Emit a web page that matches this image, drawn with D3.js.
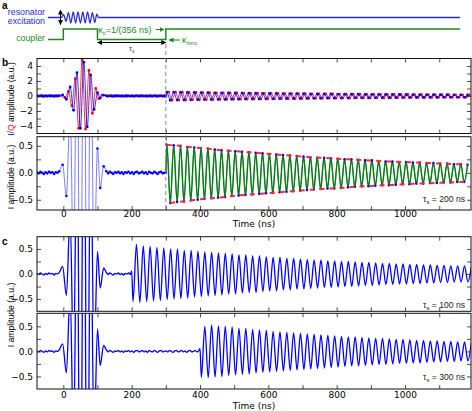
<!DOCTYPE html>
<html>
<head>
<meta charset="utf-8">
<script src="https://cdn.jsdelivr.net/npm/d3@7"></script>
<style>
  body { margin: 0; background: #fff; }
</style>
</head>
<body>
<div id="chart"></div>
<script>
// ---- data ----
const xTicks = [0, 100, 200, 300, 400, 500, 600, 700, 800, 900, 1000, 1100]
const xLabels = [0, 200, 400, 600, 800, 1000]

// panel a: coupler switching times (ns) and on/off state
const couplerT = [-45, 0, 100, 300, 1161]
const couplerOn = [0, 1, 0, 1]
// panel a: excitation wiggle (t, relative amplitude)
const excitation = [[-6, 0], [1, 0.5], [8, -0.7], [15, 0.9], [22, -1], [29, 1], [36, -1], [43, 1], [50, -1],
  [57, 1], [64, -1], [71, 1], [78, -1], [85, 0.9], [92, -0.9], [98, 0.6], [103, 0]]

// baseline noise before and after the pulse (t, I)
const noiseBefore = [[-77, 0.01], [-72, -0.01], [-67, 0.02], [-62, 0.00], [-57, -0.02], [-52, 0.01], [-47, -0.01],
  [-42, 0.02], [-37, 0.00], [-32, 0.01], [-27, -0.02], [-22, 0.01], [-17, 0.00], [-12, 0.03]]
const noiseAfter = [[126, 0.03], [131, -0.01], [136, 0.02], [141, 0.00], [146, -0.02], [151, 0.01], [156, 0.00],
  [161, 0.02], [166, -0.01], [171, 0.01], [176, -0.02], [181, 0.01], [186, 0.00], [191, 0.02], [196, -0.01],
  [201, 0.01], [206, -0.02], [211, 0.01], [216, 0.02], [221, -0.01], [226, 0.00], [231, 0.02], [236, -0.01],
  [241, 0.01], [246, -0.02], [251, 0.02], [256, 0.00], [261, -0.01], [266, 0.02], [271, 0.00], [276, -0.02],
  [281, 0.01], [286, 0.02], [291, -0.01], [296, 0.00], [301, 0.01], [306, -0.01], [311, 0.02], [316, 0.00],
  [321, -0.02], [326, 0.01], [331, 0.02], [336, -0.01], [341, 0.00], [346, 0.02], [351, -0.01], [356, 0.01],
  [361, -0.02], [366, 0.01], [371, 0.02], [376, -0.01], [381, 0.00], [386, 0.02], [391, -0.01], [396, 0.01]]

// excitation pulse, extrema of I and Q (t, a.u.)
const pulseI = [[-2, 0.15], [9, -0.43], [20, 1.2], [30, -1.9], [40, 3.1], [50, -4.3], [60, 4.5], [70, -4.1],
  [80, 2.8], [90, -1.8], [100, 0.45], [108, -0.28], [118, 0.12]]
const pulseQ = [[5, -0.2], [15, 0.6], [25, -1.3], [35, 2.3], [45, -4.3], [55, 4.8], [65, -4.4], [75, 3.4],
  [85, -2.3], [95, 1.0], [104, -0.35], [113, 0.12]]

// released field: period and per-cycle extrema
const period = 20
const bRelease = 300, bFirst = 303
const bPeaks = [0.52, 0.51, 0.50, 0.48, 0.47, 0.46, 0.45, 0.43, 0.42, 0.41, 0.40, 0.39, 0.38, 0.37, 0.36,
  0.35, 0.34, 0.33, 0.32, 0.31, 0.30, 0.29, 0.28, 0.28, 0.27, 0.26, 0.25, 0.25, 0.24, 0.23, 0.23, 0.22,
  0.21, 0.21, 0.20, 0.20, 0.19, 0.19, 0.18, 0.18, 0.17, 0.17, 0.16, 0.16, 0.15]
const bTroughs = [-0.56, -0.54, -0.53, -0.51, -0.50, -0.48, -0.47, -0.46, -0.45, -0.43, -0.42, -0.41, -0.40,
  -0.39, -0.38, -0.37, -0.36, -0.35, -0.34, -0.33, -0.32, -0.31, -0.30, -0.29, -0.29, -0.28, -0.27, -0.26,
  -0.25, -0.25, -0.24, -0.23, -0.23, -0.22, -0.21, -0.21, -0.20, -0.20, -0.19, -0.19, -0.18, -0.18, -0.17, -0.17]

const c100Release = 200, c100First = 204
const c100Troughs = [-0.55, -0.57, -0.55, -0.54, -0.53, -0.51, -0.50, -0.49, -0.48, -0.46, -0.45, -0.44, -0.43,
  -0.42, -0.40, -0.40, -0.38, -0.37, -0.37, -0.35, -0.34, -0.34, -0.32, -0.32, -0.30, -0.30, -0.29, -0.28,
  -0.27, -0.27, -0.26, -0.25, -0.25, -0.24, -0.23, -0.23, -0.22, -0.21, -0.21, -0.20, -0.20, -0.19, -0.19,
  -0.18, -0.18, -0.17, -0.17, -0.16, -0.16, -0.16]
const c100Peaks = [0.59, 0.56, 0.55, 0.53, 0.52, 0.50, 0.50, 0.47, 0.47, 0.45, 0.44, 0.43, 0.42, 0.41, 0.40,
  0.38, 0.38, 0.36, 0.36, 0.34, 0.33, 0.33, 0.31, 0.31, 0.30, 0.29, 0.28, 0.28, 0.26, 0.26, 0.25, 0.25,
  0.24, 0.23, 0.23, 0.22, 0.21, 0.21, 0.20, 0.20, 0.19, 0.19, 0.18, 0.18, 0.17, 0.17, 0.16, 0.16, 0.16, 0.15]

const c300Release = 400, c300First = 404
const c300Troughs = [-0.52, -0.52, -0.51, -0.50, -0.48, -0.47, -0.46, -0.45, -0.43, -0.42, -0.41, -0.40, -0.39,
  -0.38, -0.37, -0.36, -0.35, -0.34, -0.33, -0.32, -0.31, -0.30, -0.29, -0.29, -0.28, -0.27, -0.26, -0.26,
  -0.25, -0.24, -0.24, -0.23, -0.23, -0.22, -0.21, -0.21, -0.20, -0.20, -0.19, -0.19]
const c300Peaks = [0.50, 0.53, 0.51, 0.50, 0.49, 0.46, 0.46, 0.44, 0.43, 0.42, 0.40, 0.39, 0.38, 0.37, 0.36,
  0.35, 0.34, 0.33, 0.32, 0.31, 0.30, 0.29, 0.29, 0.28, 0.27, 0.26, 0.26, 0.25, 0.24, 0.24, 0.23, 0.22,
  0.22, 0.21, 0.21, 0.20, 0.20, 0.19, 0.19, 0.18]

// ---- layout ----
const width = 472, height = 411
const xLeft = 37, xRight = 471
const blue = "#0000ff", red = "#ff0000", green = "#008000"
const aBlue = "#2a2ad2", aGreen = "#1b8c1b"
const sans = "Liberation Sans, Arial, sans-serif"
const dejavu = "DejaVu Sans, sans-serif"

const svg = d3.select("#chart").append("svg")
  .attr("width", width).attr("height", height)

const defs = svg.append("defs")
function marker(id, color) {
  defs.append("marker").attr("id", id)
    .attr("viewBox", "0 0 10 10").attr("refX", 9).attr("refY", 5)
    .attr("markerWidth", 5).attr("markerHeight", 5)
    .attr("orient", "auto-start-reverse")
    .append("path").attr("d", "M0,0L10,5L0,10z").attr("fill", color)
}
marker("arK", "#000")
marker("arG", aGreen)

const x = d3.scaleLinear().domain([-77, 1193]).range([xLeft, xRight])

// turn per-cycle extrema into alternating (t, value) points
function release(t0, first, second) {
  const pts = []
  first.forEach((v, k) => {
    pts.push([t0 + k * period, v])
    if (k < second.length) pts.push([t0 + period / 2 + k * period, second[k]])
  })
  return pts
}
const before = (t) => noiseAfter.filter(d => d[0] < t)

const bDecayI = [[bRelease, 0]].concat(release(bFirst, bPeaks, bTroughs))
const bDecayQ = [[bRelease, 0]].concat(release(bFirst + period / 4, bPeaks, bTroughs))
const bI = noiseBefore.concat(pulseI, before(bRelease), bDecayI)
const bQ = noiseBefore.concat(pulseQ, before(bRelease), bDecayQ)
const c100 = noiseBefore.concat(pulseI, before(c100Release), [[c100Release, 0.06]],
  release(c100First, c100Troughs, c100Peaks))
const c300 = noiseBefore.concat(pulseI, before(c300Release), [[c300Release, 0.06]],
  release(c300First, c300Troughs, c300Peaks))

// ---- panel a ----
const yWave = d3.scaleLinear().domain([-1, 1]).range([23, 12])
const yCoupler = d3.scaleLinear().domain([0, 1]).range([39.5, 29])

svg.append("text").attr("x", 2).attr("y", 9).text("a")
  .style("font-family", sans).style("font-weight", "bold").style("font-size", "10px")

svg.append("text").attr("x", 45).attr("y", 15).attr("text-anchor", "end").attr("fill", aBlue)
  .style("font-family", sans).style("font-size", "8.8px").text("resonator")
svg.append("text").attr("x", 45).attr("y", 24).attr("text-anchor", "end").attr("fill", aBlue)
  .style("font-family", sans).style("font-size", "8.8px").text("excitation")
svg.append("text").attr("x", 45).attr("y", 41).attr("text-anchor", "end").attr("fill", aGreen)
  .style("font-family", sans).style("font-size", "8.8px").text("coupler")

// excitation line with wiggle
const excLine = [[-45, 0]].concat(excitation, [[1161, 0]])
svg.append("path").datum(excLine)
  .attr("fill", "none").attr("stroke", aBlue).attr("stroke-width", 1.3)
  .attr("d", d3.line().x(d => x(d[0])).y(d => yWave(d[1])).curve(d3.curveMonotoneX))

// amplitude arrow
svg.append("line").attr("x1", 60.5).attr("x2", 60.5).attr("y1", 17.5).attr("y2", 10)
  .attr("stroke", "#000").attr("stroke-width", 1).attr("marker-end", "url(#arK)")
svg.append("line").attr("x1", 60.5).attr("x2", 60.5).attr("y1", 17.5).attr("y2", 24.5)
  .attr("stroke", "#000").attr("stroke-width", 1).attr("marker-end", "url(#arK)")

// coupler steps
svg.append("path").datum(couplerT)
  .attr("fill", "none").attr("stroke", aGreen).attr("stroke-width", 1.5)
  .attr("d", d3.line().x(d => x(d)).y((d, i) => yCoupler(couplerOn[Math.min(i, couplerOn.length - 1)]))
    .curve(d3.curveStepAfter))

// kappa annotations
const kc = svg.append("text").attr("x", x(102)).attr("y", 33).attr("fill", aGreen)
  .style("font-family", sans).style("font-size", "9px")
kc.append("tspan").text("κ")
kc.append("tspan").attr("dy", 2).style("font-size", "6px").text("c")
kc.append("tspan").attr("dy", -2).text("=1/(356 ns)")
svg.append("line").attr("x1", 156).attr("x2", 164).attr("y1", 29.5).attr("y2", 29.5)
  .attr("stroke", aGreen).attr("stroke-width", 1).attr("marker-end", "url(#arG)")

svg.append("line").attr("x1", 180).attr("x2", 169).attr("y1", 40).attr("y2", 40)
  .attr("stroke", aGreen).attr("stroke-width", 1).attr("marker-end", "url(#arG)")
const kz = svg.append("text").attr("x", 182).attr("y", 43).attr("fill", aGreen)
  .style("font-family", sans).style("font-size", "9px")
kz.append("tspan").text("κ")
kz.append("tspan").attr("dy", 2).style("font-size", "5.5px").text("zero")

// storage time arrow
svg.append("line").attr("x1", (x(100) + x(300)) / 2).attr("x2", x(100)).attr("y1", 42.5).attr("y2", 42.5)
  .attr("stroke", "#000").attr("stroke-width", 1).attr("marker-end", "url(#arK)")
svg.append("line").attr("x1", (x(100) + x(300)) / 2).attr("x2", x(300)).attr("y1", 42.5).attr("y2", 42.5)
  .attr("stroke", "#000").attr("stroke-width", 1).attr("marker-end", "url(#arK)")
const ts = svg.append("text").attr("x", (x(100) + x(300)) / 2).attr("y", 51).attr("text-anchor", "middle")
  .attr("fill", "#444").style("font-family", sans).style("font-size", "7.5px")
ts.append("tspan").text("τ")
ts.append("tspan").attr("dy", 1.5).style("font-size", "5px").text("s")

// ---- panels b, c ----
const panels = [
  { id: "bUp", top: 58.5, bottom: 133.5, domain: [-5, 5], ticks: d3.range(-4, 5), labels: [-4, -2, 0, 2, 4],
    fmt: d3.format("d"), xlab: false },
  { id: "bLo", top: 136.7, bottom: 210, domain: [-0.69, 0.67], ticks: [-0.5, -0.25, 0, 0.25, 0.5],
    labels: [-0.5, 0, 0.5], fmt: d3.format(".1f"), xlab: true, pad: 0.5 },
  { id: "cUp", top: 236.7, bottom: 311.3, domain: [-0.745, 0.745], ticks: [-0.5, -0.25, 0, 0.25, 0.5],
    labels: [-0.5, 0, 0.5], fmt: d3.format(".1f"), xlab: false },
  { id: "cLo", top: 313.3, bottom: 389, domain: [-0.75, 0.76], ticks: [-0.5, -0.25, 0, 0.25, 0.5],
    labels: [-0.5, 0, 0.5], fmt: d3.format(".1f"), xlab: true, pad: 2.5 }
]

panels.forEach(p => {
  p.y = d3.scaleLinear().domain(p.domain).range([p.bottom, p.top])
  defs.append("clipPath").attr("id", "clip-" + p.id)
    .append("rect").attr("x", xLeft).attr("y", p.top).attr("width", xRight - xLeft).attr("height", p.bottom - p.top)
  p.g = svg.append("g")
  p.plot = p.g.append("g").attr("clip-path", "url(#clip-" + p.id + ")")
})

function styleAxis(g) {
  g.select(".domain").remove()
  g.selectAll(".tick line").attr("stroke", "#222").attr("stroke-width", 0.8)
  g.selectAll("text").style("font-family", dejavu).style("font-size", "9px").attr("fill", "#000")
}

const P = Object.fromEntries(panels.map(p => [p.id, p]))
const lineOf = (p) => d3.line().x(d => x(d[0])).y(d => p.y(d[1])).curve(d3.curveMonotoneX)

// dashed release marker
svg.append("line").attr("x1", x(300)).attr("x2", x(300)).attr("y1", 44).attr("y2", P.bLo.bottom)
  .attr("stroke", "#888").attr("stroke-width", 1).attr("stroke-dasharray", "4,3")

// b upper: I and Q
const bu = P.bUp
bu.plot.append("path").datum(bQ).attr("fill", "none").attr("stroke", red).attr("stroke-width", 0.8)
  .attr("d", lineOf(bu))
bu.plot.selectAll(".q").data(bQ).join("circle").attr("class", "q")
  .attr("cx", d => x(d[0])).attr("cy", d => bu.y(d[1])).attr("r", 1.4).attr("fill", red)
bu.plot.append("path").datum(bI).attr("fill", "none").attr("stroke", blue).attr("stroke-width", 0.8)
  .attr("d", lineOf(bu))
bu.plot.selectAll(".i").data(bI).join("circle").attr("class", "i")
  .attr("cx", d => x(d[0])).attr("cy", d => bu.y(d[1])).attr("r", 1.4).attr("fill", blue)

// b lower: I with fit and envelope
const bl = P.bLo
bl.plot.append("path").datum(bI).attr("fill", "none").attr("stroke", "#5c5cff").attr("stroke-width", 0.8)
  .attr("d", lineOf(bl))
bl.plot.append("path").datum(bDecayI).attr("fill", "none").attr("stroke", green).attr("stroke-width", 1.4)
  .attr("d", lineOf(bl))
bl.plot.selectAll(".i").data(bI).join("circle").attr("class", "i")
  .attr("cx", d => x(d[0])).attr("cy", d => bl.y(d[1])).attr("r", 1.3).attr("fill", blue)
const envTop = bPeaks.map((v, k) => [bFirst + k * period, v])
const envBot = bTroughs.map((v, k) => [bFirst + period / 2 + k * period, v])
;[envTop, envBot].forEach(env => {
  bl.plot.append("path").datum(env).attr("fill", "none").attr("stroke", "#ff2a2a").attr("stroke-width", 2)
    .attr("stroke-dasharray", "5,5")
    .attr("d", d3.line().x(d => x(d[0])).y(d => bl.y(d[1])).curve(d3.curveBasis))
})

// c panels
P.cUp.plot.append("path").datum(c100).attr("fill", "none").attr("stroke", blue).attr("stroke-width", 1.3)
  .attr("d", lineOf(P.cUp))
P.cLo.plot.append("path").datum(c300).attr("fill", "none").attr("stroke", blue).attr("stroke-width", 1.3)
  .attr("d", lineOf(P.cLo))

// axes and frames
panels.forEach(p => {
  p.g.append("g").attr("transform", "translate(0," + p.bottom + ")")
    .call(d3.axisBottom(x).tickValues(xTicks).tickSize(-4).tickPadding(p.pad || 2)
      .tickFormat(d => p.xlab && xLabels.includes(d) ? d : ""))
    .call(styleAxis)
  p.g.append("g").attr("transform", "translate(0," + p.top + ")")
    .call(d3.axisTop(x).tickValues(xTicks).tickSize(-4).tickFormat(""))
    .call(styleAxis)
  p.g.append("g").attr("transform", "translate(" + xLeft + ",0)")
    .call(d3.axisLeft(p.y).tickValues(p.ticks).tickSize(-4).tickPadding(4)
      .tickFormat(d => p.labels.includes(d) ? p.fmt(d) : ""))
    .call(styleAxis)
  p.g.append("g").attr("transform", "translate(" + xRight + ",0)")
    .call(d3.axisRight(p.y).tickValues(p.ticks).tickSize(-4).tickFormat(""))
    .call(styleAxis)
  p.g.append("rect").attr("x", xLeft).attr("y", p.top).attr("width", xRight - xLeft).attr("height", p.bottom - p.top)
    .attr("fill", "none").attr("stroke", "#111").attr("stroke-width", 1)
})

// panel letters and axis titles
svg.append("text").attr("x", 2).attr("y", 66).text("b")
  .style("font-family", sans).style("font-weight", "bold").style("font-size", "10px")
svg.append("text").attr("x", 2).attr("y", 245).text("c")
  .style("font-family", sans).style("font-weight", "bold").style("font-size", "10px")

function yTitle(cy, parts) {
  const t = svg.append("text").attr("transform", "translate(14," + cy + ") rotate(-90)")
    .attr("text-anchor", "middle").style("font-family", sans).style("font-size", "8.6px")
  parts.forEach(([s, c]) => t.append("tspan").attr("fill", c).text(s))
}
yTitle(99, [["I", blue], ["/", "#555"], ["Q", red], [" amplitude (a.u.)", "#000"]])
yTitle(177, [["I amplitude (a.u.)", "#000"]])
yTitle(315, [["I amplitude (a.u.)", "#000"]])

;[[P.bLo, 226.5], [P.cLo, 409]].forEach(([p, yy]) => {
  svg.append("text").attr("x", (xLeft + xRight) / 2).attr("y", yy).attr("text-anchor", "middle")
    .style("font-family", dejavu).style("font-size", "9px").text("Time (ns)")
})

// storage time notes
const notes = [["bLo", "200"], ["cUp", "100"], ["cLo", "300"]]
const noteY = { bLo: 202, cUp: 308, cLo: 380 }
notes.forEach(([id, v]) => {
  const t = svg.append("text").attr("x", 465).attr("y", noteY[id]).attr("text-anchor", "end")
    .style("font-family", sans).style("font-size", "8.6px").attr("fill", "#222")
  t.append("tspan").text("τ")
  t.append("tspan").attr("dy", 2).style("font-size", "6px").text("s")
  t.append("tspan").attr("dy", -2).text(" = " + v + " ns")
})
</script>
</body>
</html>
